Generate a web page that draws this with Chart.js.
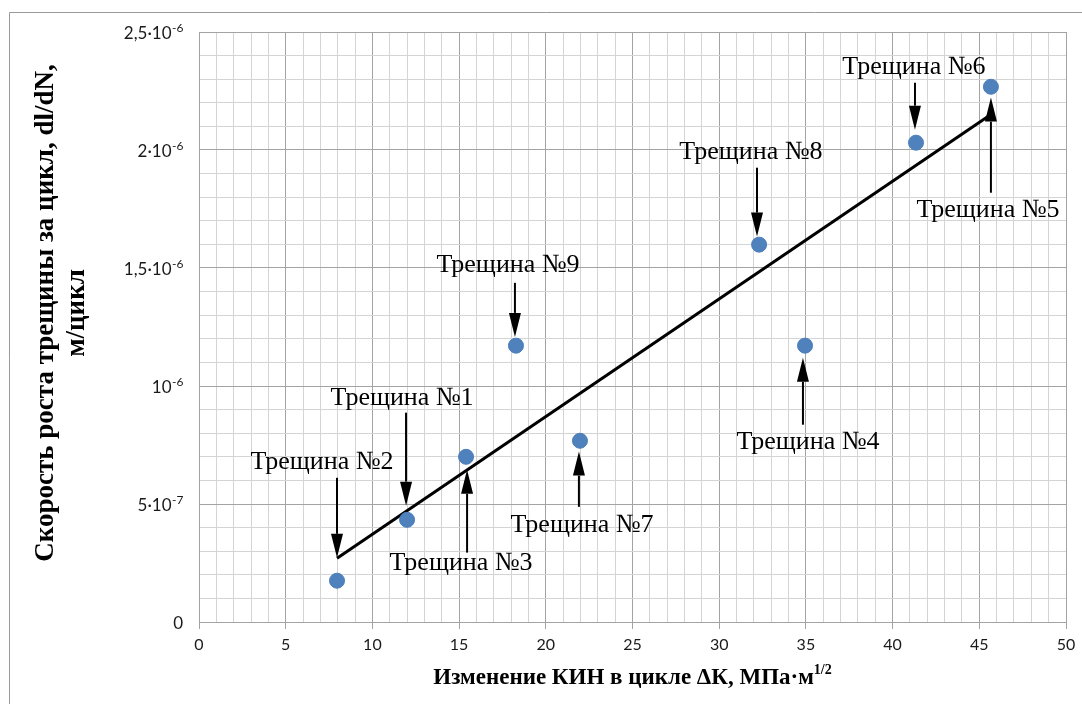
<!DOCTYPE html>
<html>
<head>
<meta charset="utf-8">
<script src="https://cdn.jsdelivr.net/npm/chart.js@4.4.1/dist/chart.umd.min.js"></script>
<style>
  html, body { margin: 0; padding: 0; background: #ffffff; }
  #wrap { width: 1082px; height: 704px; position: relative; }
</style>
</head>
<body>
<div id="wrap"><canvas id="chart" width="1082" height="704"></canvas></div>
<script>
// Measured crack growth: ΔK (MPa·m^1/2) and dl/dN (m/cycle), cracks №1..№9
const crackNames = ['Трещина №1', 'Трещина №2', 'Трещина №3', 'Трещина №4', 'Трещина №5',
                    'Трещина №6', 'Трещина №7', 'Трещина №8', 'Трещина №9'];
const deltaK     = [12.0, 7.96, 15.4, 34.95, 45.67, 41.35, 21.97, 32.3, 18.28];
const growthRate = [4.33e-7, 1.75e-7, 7.0e-7, 1.171e-6, 2.268e-6, 2.031e-6, 7.68e-7, 1.599e-6, 1.171e-6];

// Linear trend line end points
const trendK    = [7.96, 45.67];
const trendRate = [2.70e-7, 2.15e-6];

// Callout placement in data units: label centre and arrow (shaft start -> tip)
const labelK    = [11.71, 7.09, 15.11, 35.12, 45.50, 41.23, 22.09, 31.83, 17.82];
const labelRate = [9.50e-7, 6.79e-7, 2.51e-7, 7.60e-7, 1.747e-6, 2.349e-6, 4.12e-7, 1.992e-6, 1.514e-6];
const arrowK    = [11.94, 7.96, 15.46, 34.83, 45.67, 41.29, 21.91, 32.18, 18.22];
const arrowFrom = [8.87e-7, 6.11e-7, 2.94e-7, 8.36e-7, 1.819e-6, 2.285e-6, 4.88e-7, 1.925e-6, 1.437e-6];
const arrowTo   = [4.93e-7, 2.72e-7, 6.45e-7, 1.120e-6, 2.222e-6, 2.086e-6, 7.22e-7, 1.633e-6, 1.208e-6];

// Axis ticks
const yTickValues = [0, 5e-7, 1e-6, 1.5e-6, 2e-6, 2.5e-6];
const yTickBase   = ['0', '5·10', '10', '1,5·10', '2·10', '2,5·10'];
const yTickExp    = ['', '-7', '-6', '-6', '-6', '-6'];

const xTitle    = 'Изменение КИН в цикле ΔК, МПа·м';
const xTitleSup = '1/2';
const yTitle    = ['Скорость роста трещины за цикл, dl/dN,', 'м/цикл'];

const MAJOR = '#a3a3a3';
const MINOR = '#d4d4d4';
const SANS  = 'Lato, "Open Sans", sans-serif';
const SERIF = '"Liberation Serif", "DejaVu Serif", serif';

const decorations = {
  id: 'decorations',
  afterDatasetsDraw(chart) {
    const ctx = chart.ctx;
    const xs = chart.scales.x, ys = chart.scales.y;
    ctx.save();
    // callout arrows
    ctx.strokeStyle = '#000';
    ctx.fillStyle = '#000';
    ctx.lineWidth = 2;
    const headLen = 24, headHalf = 6;
    for (let i = 0; i < arrowK.length; i++) {
      const x = xs.getPixelForValue(arrowK[i]);
      const y0 = ys.getPixelForValue(arrowFrom[i]);
      const y1 = ys.getPixelForValue(arrowTo[i]);
      const dir = y1 > y0 ? 1 : -1;
      ctx.beginPath();
      ctx.moveTo(x, y0);
      ctx.lineTo(x, y1 - dir * headLen);
      ctx.stroke();
      ctx.beginPath();
      ctx.moveTo(x, y1);
      ctx.lineTo(x - headHalf, y1 - dir * headLen);
      ctx.lineTo(x + headHalf, y1 - dir * headLen);
      ctx.closePath();
      ctx.fill();
    }
    // callout labels
    ctx.font = '26px ' + SERIF;
    ctx.textAlign = 'center';
    ctx.textBaseline = 'middle';
    for (let i = 0; i < crackNames.length; i++) {
      ctx.fillText(crackNames[i], xs.getPixelForValue(labelK[i]), ys.getPixelForValue(labelRate[i]));
    }
    ctx.restore();
  },
  afterDraw(chart) {
    const ctx = chart.ctx;
    const ys = chart.scales.y;
    const area = chart.chartArea;
    ctx.save();
    // outer frame
    ctx.strokeStyle = '#9a9a9a';
    ctx.lineWidth = 1;
    ctx.beginPath();
    ctx.moveTo(9.5, 720);
    ctx.lineTo(9.5, 12.5);
    ctx.lineTo(1100, 12.5);
    ctx.stroke();

    // y tick labels with exponent
    ctx.fillStyle = '#1a1a1a';
    ctx.textBaseline = 'middle';
    ctx.textAlign = 'left';
    const right = area.left - 16;
    for (let i = 0; i < yTickValues.length; i++) {
      const y = ys.getPixelForValue(yTickValues[i]);
      ctx.font = '17px ' + SANS;
      const bw = ctx.measureText(yTickBase[i]).width;
      ctx.font = '12px ' + SANS;
      const ew = ctx.measureText(yTickExp[i]).width;
      const x0 = right - bw - ew;
      ctx.font = '17px ' + SANS;
      ctx.fillText(yTickBase[i], x0, y + 2);
      ctx.font = '12px ' + SANS;
      ctx.fillText(yTickExp[i], x0 + bw + 0.5, y - 4);
    }

    // x axis title
    ctx.fillStyle = '#000';
    ctx.font = 'bold 23px ' + SERIF;
    const tw = ctx.measureText(xTitle).width;
    ctx.font = 'bold 14px ' + SERIF;
    const sw = ctx.measureText(xTitleSup).width;
    const tx = (area.left + area.right) / 2 - (tw + sw) / 2;
    ctx.font = 'bold 23px ' + SERIF;
    ctx.fillText(xTitle, tx, 678);
    ctx.font = 'bold 14px ' + SERIF;
    ctx.fillText(xTitleSup, tx + tw, 670);

    // y axis title (rotated, two lines)
    ctx.translate(0, 313);
    ctx.rotate(-Math.PI / 2);
    ctx.textAlign = 'center';
    ctx.font = 'bold 27px ' + SERIF;
    ctx.fillText(yTitle[0], 0, 46);
    ctx.fillText(yTitle[1], 0, 77);
    ctx.restore();
  }
};

const isMajorX = v => Math.round(v) % 5 === 0;
const isMajorY = v => Math.round(v / 1e-7) % 5 === 0;

new Chart(document.getElementById('chart'), {
  type: 'scatter',
  data: {
    datasets: [
      {
        label: 'Тренд',
        data: trendK.map((k, i) => ({ x: k, y: trendRate[i] })),
        showLine: true,
        borderColor: '#000000',
        borderWidth: 3,
        pointRadius: 0,
        order: 2
      },
      {
        label: 'dl/dN',
        data: deltaK.map((k, i) => ({ x: k, y: growthRate[i] })),
        pointRadius: 7.5,
        pointHoverRadius: 7.5,
        backgroundColor: '#4f81bd',
        borderColor: '#4a7dba',
        borderWidth: 1,
        order: 1
      }
    ]
  },
  options: {
    responsive: false,
    animation: false,
    events: [],
    layout: { padding: { left: 0, top: 32, right: 16, bottom: 0 } },
    plugins: {
      legend: { display: false },
      tooltip: { enabled: false },
      title: { display: false }
    },
    scales: {
      x: {
        type: 'linear',
        min: 0,
        max: 50,
        afterFit(scale) { scale.height = 82; },
        ticks: {
          stepSize: 1,
          autoSkip: false,
          maxRotation: 0,
          padding: 6,
          color: '#1a1a1a',
          font: { family: SANS, size: 16 },
          callback: v => (isMajorX(v) ? String(v) : '')
        },
        grid: {
          color: c => (isMajorX(c.tick.value) ? MAJOR : MINOR),
          tickColor: c => (isMajorX(c.tick.value) ? MAJOR : 'rgba(0,0,0,0)'),
          tickLength: 7,
          lineWidth: 1
        },
        border: { display: true, color: MAJOR }
      },
      y: {
        type: 'linear',
        min: 0,
        max: 2.5e-6,
        afterFit(scale) { scale.width = 199; },
        ticks: { stepSize: 1e-7, autoSkip: false, display: false },
        grid: {
          color: c => (isMajorY(c.tick.value) ? MAJOR : MINOR),
          drawTicks: false,
          lineWidth: 1
        },
        border: { display: true, color: MAJOR }
      }
    }
  },
  plugins: [decorations]
});
</script>
</body>
</html>
